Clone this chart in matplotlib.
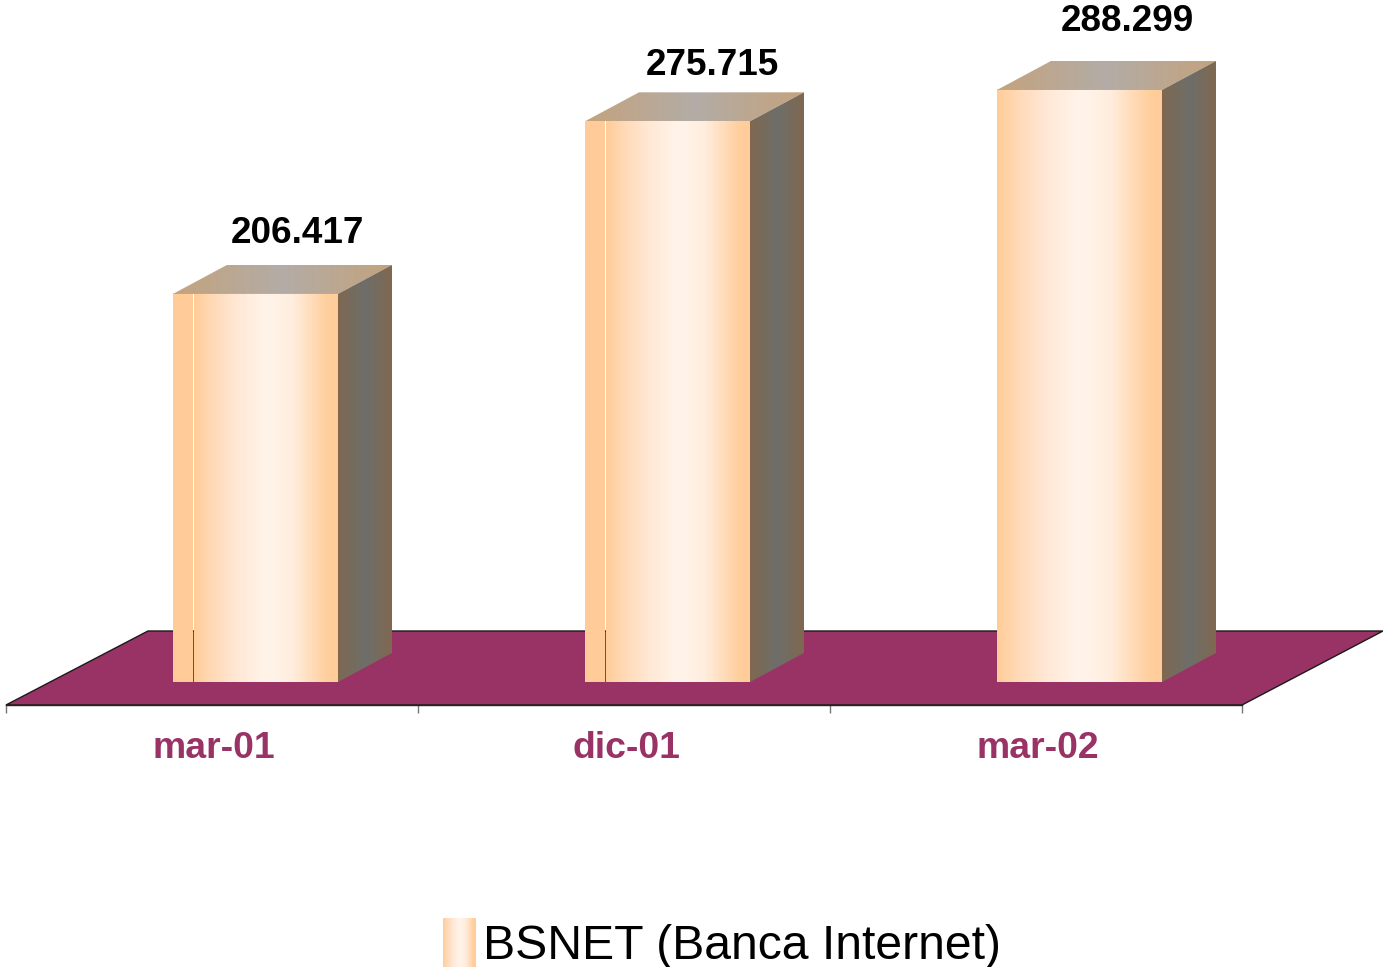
import numpy as np
import matplotlib
matplotlib.use("Agg")
import matplotlib.pyplot as plt
from matplotlib.colors import LinearSegmentedColormap
from matplotlib.patches import Polygon
from matplotlib.transforms import ScaledTranslation

categories = ["mar-01", "dic-01", "mar-02"]
values = [206417, 275715, 288299]
value_labels = ["206.417", "275.715", "288.299"]
series_name = "BSNET (Banca Internet)"

plt.rcParams["font.family"] = ["Liberation Sans", "DejaVu Sans"]

maroon = "#993366"
W, H = 1383, 967
fig = plt.figure(figsize=(W / 100, H / 100), dpi=100)
ax = fig.add_axes([6 / W, (H - 705) / H, 1236 / W, 705 / H])
ax.patch.set_alpha(0)

# axis scale, the value axis does not start at 0
base = 50600
yp = 401.5  # value units per pixel
xp = 1 / 412  # category units per pixel
ax.set_xlim(-0.5, 2.5)
ax.set_ylim(base - 23 * yp, base + 682 * yp)

front = LinearSegmentedColormap.from_list("front", [
    (0, "#ffcc99"), (0.12, "#ffd9b5"), (0.3, "#ffe8d6"), (0.5, "#fff4ea"),
    (0.68, "#ffeedf"), (0.92, "#ffcf9f"), (1, "#ffcc99")])
flat = LinearSegmentedColormap.from_list("flat", ["#ffcc99", "#ffcc99"])
top = LinearSegmentedColormap.from_list("top", ["#c4a37d", "#b3aca6", "#c4a37d"])
side = LinearSegmentedColormap.from_list("side", ["#7f6850", "#6e6e6a", "#7f6850"])
ramp = np.linspace(0, 1, 256)[None, :]


def face(cmap, x0, x1, y0, y1, clip=None):
    im = ax.imshow(ramp, cmap=cmap, extent=(x0, x1, y0, y1), aspect="auto",
                   interpolation="bilinear", zorder=3)
    if clip is not None:
        im.set_clip_path(Polygon(clip, transform=ax.transData))


# floor
floor = [(-0.5, base - 23 * yp), (2.5, base - 23 * yp),
         (2.5 + 141 * xp, base + 51 * yp), (-0.5 + 142 * xp, base + 51 * yp)]
ax.add_patch(Polygon(floor, closed=True, facecolor=maroon, edgecolor="#1a1a1a",
                     linewidth=1, clip_on=False, zorder=1))

# bars
bar_w = 165 * xp
dx = 54 * xp
dy = 29 * yp
label_dx = [85, 88, 91]  # labels do not sit the same way on each bar
label_dy = [60, 56, 68]
for i, v in enumerate(values):
    x0 = i - 39 * xp
    x1 = x0 + bar_w
    if i < 2:
        # first two bars have a flat strip split off on the left
        face(flat, x0, x0 + 20 * xp, base, v)
        face(front, x0 + 21 * xp, x1, base, v)
    else:
        face(front, x0, x1, base, v)
    face(top, x0, x1 + dx, v, v + dy,
         [(x0, v), (x1, v), (x1 + dx, v + dy), (x0 + dx, v + dy)])
    face(side, x1, x1 + dx, base, v + dy,
         [(x1, base), (x1 + dx, base + dy), (x1 + dx, v + dy), (x1, v)])
    ax.text(i + label_dx[i] * xp, v + label_dy[i] * yp, value_labels[i], ha="center",
            va="center", fontsize=26.6, fontweight="bold", color="black", zorder=4)

ax.set_xlim(-0.5, 2.5)
ax.set_ylim(base - 23 * yp, base + 682 * yp)

# axis
for s in ["top", "left", "right"]:
    ax.spines[s].set_visible(False)
ax.spines["bottom"].set_color("#222222")
ax.spines["bottom"].set_linewidth(1)
ax.set_yticks([])
ax.set_xticks(range(len(categories)))
ax.set_xticklabels(categories, fontsize=26.9, fontweight="bold", color=maroon)
ax.set_xticks([-0.5, 0.5, 1.5, 2.5], minor=True)
ax.tick_params(axis="x", which="major", length=0, pad=19)
ax.tick_params(axis="x", which="minor", length=5.8, width=1, color="#777777")
for lab in ax.get_xticklabels():
    lab.set_transform(lab.get_transform() + ScaledTranslation(2 / 100, 0, fig.dpi_scale_trans))

# legend
lg = fig.add_axes([443 / W, 0, 33 / W, 49 / H])
lg.imshow(ramp, cmap=front, aspect="auto", interpolation="bilinear")
lg.axis("off")
fig.text(483 / W, (H - 959) / H, series_name, fontsize=34.7, color="black",
         ha="left", va="baseline")

fig.savefig("out.png", dpi=100, facecolor="white")
